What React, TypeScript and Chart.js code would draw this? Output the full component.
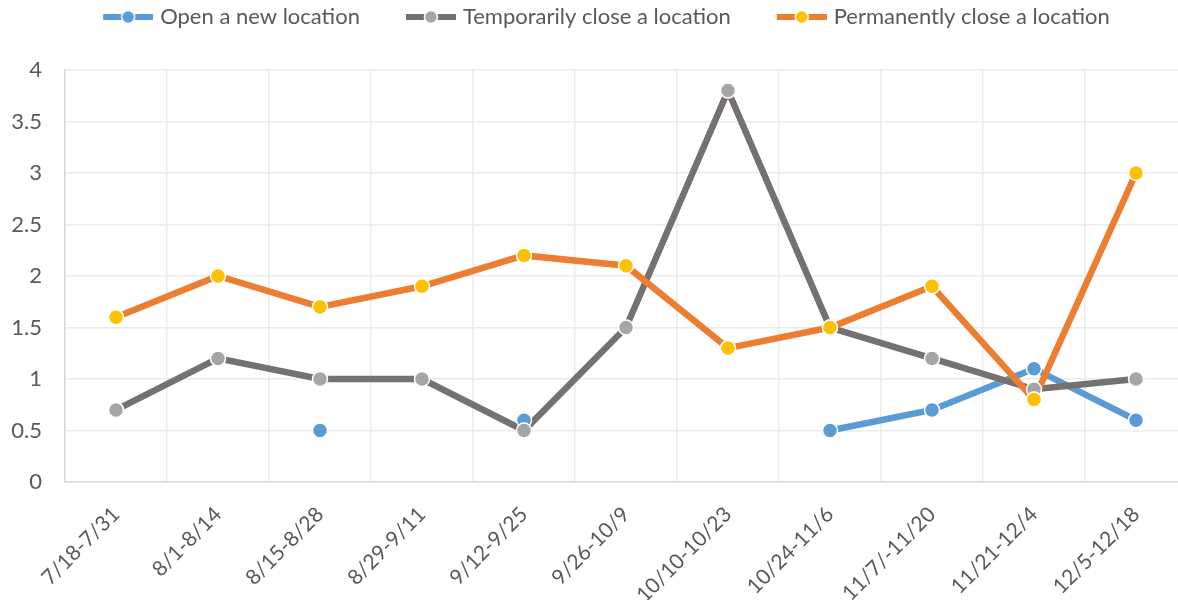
import React, { useEffect, useRef } from "react";
import { Chart, registerables } from "chart.js";

Chart.register(...registerables);

const categories = [
  "7/18-7/31", "8/1-8/14", "8/15-8/28", "8/29-9/11", "9/12-9/25", "9/26-10/9",
  "10/10-10/23", "10/24-11/6", "11/7/-11/20", "11/21-12/4", "12/5-12/18",
];
const openNew = [null, null, 0.5, null, 0.6, null, null, 0.5, 0.7, 1.1, 0.6];
const tempClose = [0.7, 1.2, 1.0, 1.0, 0.5, 1.5, 3.8, 1.5, 1.2, 0.9, 1.0];
const permClose = [1.6, 2.0, 1.7, 1.9, 2.2, 2.1, 1.3, 1.5, 1.9, 0.8, 3.0];
const seriesNames = ["Open a new location", "Temporarily close a location", "Permanently close a location"];
const lineColors = ["#5B9BD5", "#767171", "#ED7D31"];
const dotColors = ["#5B9BD5", "#A5A5A5", "#FFC000"];

const FONT = "Lato, 'Open Sans', sans-serif";
const TEXT = "#595959";
const BOX_W = 86;
const LEGEND_EXTRA = 32;
const LEGEND_SHIFT = 23;

// legend marker (line + dot), drawn at the right end of a box-wide canvas
function legendIcon(line: string, dot: string) {
  const c = document.createElement("canvas");
  c.width = BOX_W + 8;
  c.height = 16;
  const ctx = c.getContext("2d")!;
  const x0 = c.width - 50;
  ctx.fillStyle = line;
  ctx.fillRect(x0, 5, 50, 6);
  ctx.beginPath();
  ctx.arc(x0 + 25, 8, 6.5, 0, Math.PI * 2);
  ctx.fillStyle = dot;
  ctx.fill();
  ctx.lineWidth = 1.5;
  ctx.strokeStyle = "#ffffff";
  ctx.stroke();
  return c;
}

const legendSpace = {
  id: "legendSpace",
  beforeUpdate(chart: any) {
    const lg = chart.legend;
    if (lg && !lg.__patched) {
      const orig = lg.fit;
      lg.fit = function () {
        orig.call(this);
        this.height += LEGEND_EXTRA;
        if (this.lineWidths && this.lineWidths.length) this.lineWidths[0] += LEGEND_SHIFT;
      };
      lg.__patched = true;
    }
  },
};

export default function App() {
  const ref = useRef<HTMLCanvasElement>(null);
  useEffect(() => {
    const icons = [0, 1, 2].map((i) => legendIcon(lineColors[i], dotColors[i]));
    const series = [openNew, tempClose, permClose];
    // lines first (all series), then markers on top, like the original
    const lineSets = series.map((data, i) => ({
      label: seriesNames[i],
      data,
      borderColor: lineColors[i],
      backgroundColor: dotColors[i],
      pointRadius: 0,
      borderWidth: 6.5,
      tension: 0,
      spanGaps: false,
      order: 6 - i,
    }));
    const pointSets = series.map((data, i) => ({
      label: seriesNames[i] + " markers",
      data,
      showLine: false,
      borderColor: lineColors[i],
      backgroundColor: dotColors[i],
      pointBackgroundColor: dotColors[i],
      pointBorderColor: "#ffffff",
      pointBorderWidth: 1.5,
      pointRadius: 7.5,
      order: 3 - i,
    }));
    const chart = new Chart(ref.current!, {
      type: "line",
      data: {
        labels: categories,
        datasets: [...lineSets, ...pointSets],
      },
      plugins: [legendSpace],
      options: {
        animation: false,
        responsive: false,
        layout: { padding: { left: 0, right: 0, top: 0, bottom: 0 } },
        plugins: {
          tooltip: { enabled: false },
          legend: {
            position: "top",
            labels: {
              font: { family: FONT, size: 22 },
              color: TEXT,
              usePointStyle: true,
              pointStyleWidth: BOX_W,
              padding: 6,
              generateLabels: (chart: any) =>
                chart.data.datasets.slice(0, 3).map((d: any, i: number) => ({
                  text: d.label,
                  fillStyle: d.backgroundColor,
                  strokeStyle: d.borderColor,
                  lineWidth: 0,
                  pointStyle: icons[i],
                  datasetIndex: i,
                  fontColor: TEXT,
                  hidden: false,
                })),
            },
          },
        },
        scales: {
          x: {
            offset: true,
            afterFit: (s: any) => {
              s.height = 118;
            },
            grid: { offset: true, color: "#EBEBEB", lineWidth: 1.5, drawTicks: false },
            border: { color: "#D9D9D9", width: 1.5 },
            ticks: {
              font: { family: FONT, size: 21 },
              color: TEXT,
              maxRotation: 45,
              minRotation: 45,
              padding: 20,
              autoSkip: false,
            },
          },
          y: {
            min: 0,
            max: 4,
            afterFit: (s: any) => {
              s.width = 65;
            },
            grid: { color: "#EBEBEB", lineWidth: 1.5, drawTicks: false },
            border: { color: "#D9D9D9", width: 1.5 },
            ticks: {
              stepSize: 0.5,
              font: { family: FONT, size: 22 },
              color: TEXT,
              padding: 23,
              callback: (v: any) => String(v),
            },
          },
        },
      },
    });
    return () => chart.destroy();
  }, []);
  return (
    <div style={{ position: "absolute", left: 0, top: 0, width: 1178, height: 600, overflow: "hidden", background: "#fff" }}>
      <canvas ref={ref} width={1196} height={600} style={{ display: "block", width: 1196, height: 600 }} />
    </div>
  );
}
